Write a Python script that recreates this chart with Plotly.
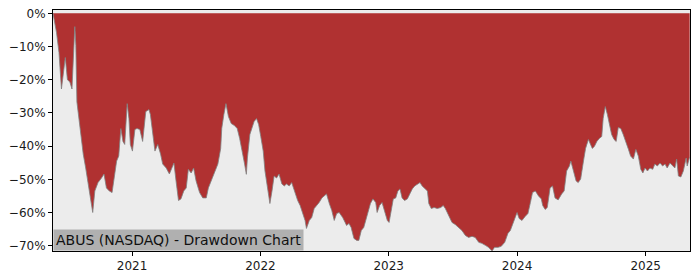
import plotly.graph_objects as go

dates = [
    "2020-05-21", "2020-05-31", "2020-06-07", "2020-06-14", "2020-06-25", "2020-07-01", "2020-07-08",
    "2020-07-14", "2020-07-22", "2020-07-25", "2020-07-28", "2020-08-03", "2020-08-07", "2020-08-15",
    "2020-08-22", "2020-08-29", "2020-09-05", "2020-09-11", "2020-09-17", "2020-09-26", "2020-10-06",
    "2020-10-13", "2020-10-20", "2020-10-28", "2020-11-05", "2020-11-11", "2020-11-18", "2020-11-24",
    "2020-11-30", "2020-12-06", "2020-12-11", "2020-12-18", "2020-12-23", "2020-12-27",
    "2021-01-02", "2021-01-09", "2021-01-15", "2021-01-23", "2021-01-31", "2021-02-09", "2021-02-18",
    "2021-02-22", "2021-03-01", "2021-03-07", "2021-03-15", "2021-03-23", "2021-03-29", "2021-04-08",
    "2021-04-17", "2021-04-24", "2021-04-30", "2021-05-06", "2021-05-13", "2021-05-20", "2021-05-28",
    "2021-06-04", "2021-06-10", "2021-06-18", "2021-06-25", "2021-07-02", "2021-07-12", "2021-07-21",
    "2021-07-31", "2021-08-06", "2021-08-14", "2021-08-23", "2021-09-02", "2021-09-10", "2021-09-13",
    "2021-09-19", "2021-09-25", "2021-10-02", "2021-10-10", "2021-10-19", "2021-10-27", "2021-11-03",
    "2021-11-09", "2021-11-17", "2021-11-22", "2021-11-25", "2021-12-02", "2021-12-08", "2021-12-14",
    "2021-12-21", "2021-12-27",
    "2022-01-02", "2022-01-09", "2022-01-14", "2022-01-21", "2022-01-28", "2022-02-03", "2022-02-09",
    "2022-02-16", "2022-02-23", "2022-03-03", "2022-03-10", "2022-03-16", "2022-03-24", "2022-03-31",
    "2022-04-07", "2022-04-17", "2022-04-24", "2022-05-01", "2022-05-08", "2022-05-12", "2022-05-20",
    "2022-05-27", "2022-06-03", "2022-06-10", "2022-06-17", "2022-06-25", "2022-07-01", "2022-07-08",
    "2022-07-16", "2022-07-23", "2022-07-30", "2022-08-06", "2022-08-13", "2022-08-23", "2022-08-30",
    "2022-09-03", "2022-09-10", "2022-09-16", "2022-09-24", "2022-10-02", "2022-10-08", "2022-10-15",
    "2022-10-22", "2022-10-30", "2022-11-06", "2022-11-10", "2022-11-17", "2022-11-25", "2022-11-29",
    "2022-12-06", "2022-12-13", "2022-12-20", "2022-12-28",
    "2023-01-02", "2023-01-08", "2023-01-14", "2023-01-21", "2023-01-27", "2023-02-02", "2023-02-08",
    "2023-02-15", "2023-02-23", "2023-03-02", "2023-03-09", "2023-03-16", "2023-03-23", "2023-03-31",
    "2023-04-06", "2023-04-13", "2023-04-21", "2023-04-25", "2023-05-02", "2023-05-10", "2023-05-19",
    "2023-05-29", "2023-06-05", "2023-06-11", "2023-06-20", "2023-06-30", "2023-07-09", "2023-07-19",
    "2023-07-28", "2023-08-07", "2023-08-16", "2023-08-26", "2023-09-04", "2023-09-14", "2023-09-23",
    "2023-10-03", "2023-10-12", "2023-10-22", "2023-10-29", "2023-11-08", "2023-11-17", "2023-11-27",
    "2023-12-06", "2023-12-13", "2023-12-20", "2023-12-25",
    "2024-01-01", "2024-01-07", "2024-01-15", "2024-01-24", "2024-02-01", "2024-02-08", "2024-02-14",
    "2024-02-22", "2024-03-02", "2024-03-10", "2024-03-14", "2024-03-21", "2024-03-27", "2024-04-04",
    "2024-04-11", "2024-04-18", "2024-04-27", "2024-05-07", "2024-05-14", "2024-05-21", "2024-05-29",
    "2024-06-02", "2024-06-09", "2024-06-17", "2024-06-23", "2024-06-30", "2024-07-08", "2024-07-14",
    "2024-07-22", "2024-07-27", "2024-08-02", "2024-08-08", "2024-08-15", "2024-08-22", "2024-08-29",
    "2024-09-02", "2024-09-08", "2024-09-14", "2024-09-20", "2024-09-26", "2024-10-03", "2024-10-09",
    "2024-10-15", "2024-10-22", "2024-10-29", "2024-11-06", "2024-11-13", "2024-11-19", "2024-11-27",
    "2024-12-04", "2024-12-11", "2024-12-18", "2024-12-24", "2024-12-30",
    "2025-01-06", "2025-01-13", "2025-01-21", "2025-01-27", "2025-02-03", "2025-02-11", "2025-02-18",
    "2025-02-25", "2025-03-03", "2025-03-11", "2025-03-19", "2025-03-25", "2025-03-30", "2025-04-04",
    "2025-04-11", "2025-04-18", "2025-04-26", "2025-04-29", "2025-05-06",
]

drawdown_pct = [
    0.0, -5.8, -11.8, -22.8, -13.3, -20.0, -20.7,
    -22.8, -4.0, -9.7, -26.7, -32.6, -35.6, -42.4,
    -46.6, -51.4, -55.6, -60.0, -53.5, -51.0, -49.6,
    -48.4, -52.6, -53.5, -54.0, -49.6, -44.5, -43.0,
    -34.7, -38.6, -39.5, -27.2, -31.7, -39.5,
    -41.5, -35.0, -34.7, -35.0, -38.6, -29.6, -29.0,
    -30.5, -36.5, -41.5, -39.5, -42.4, -45.4, -46.6,
    -48.4, -46.6, -45.1, -50.5, -56.4, -55.9, -53.5,
    -52.6, -47.0, -48.1, -46.6, -50.5, -54.0, -55.6,
    -55.6, -52.6, -50.5, -48.4, -45.4, -40.7, -34.7,
    -30.5, -27.2, -31.1, -33.2, -33.8, -34.7, -37.7,
    -40.7, -45.4, -48.5, -43.6, -36.5, -34.7, -32.6,
    -31.7, -33.5,
    -37.1, -41.5, -47.5, -52.6, -57.3, -53.5, -49.0,
    -49.6, -48.4, -51.4, -52.0, -51.4, -52.0, -51.0,
    -53.5, -56.4, -57.9, -60.3, -62.4, -64.8, -62.4,
    -61.5, -58.8, -57.9, -57.0, -55.6, -55.0, -54.4,
    -57.3, -59.4, -62.4, -60.3, -60.0, -61.5, -63.0,
    -63.9, -63.3, -64.5, -67.8, -68.4, -68.4, -65.4,
    -64.5, -61.5, -59.4, -57.3, -55.9, -57.0, -60.0,
    -57.9, -57.0, -59.4, -62.4,
    -63.0, -59.4, -55.9, -55.6, -53.5, -52.9, -55.6,
    -56.4, -55.9, -54.4, -52.9, -52.0, -51.4, -51.0,
    -52.0, -52.6, -53.5, -57.3, -58.8, -58.5, -58.8,
    -58.5, -57.9, -58.8, -60.9, -63.0, -63.6, -64.5,
    -65.4, -66.9, -67.5, -67.2, -67.5, -69.0, -69.3,
    -69.9, -70.5, -71.6, -70.5, -70.5, -70.2, -69.0,
    -66.3, -65.4, -63.3, -61.5,
    -60.0, -61.8, -62.4, -61.2, -60.3, -57.0, -54.0,
    -53.5, -55.0, -55.9, -57.9, -59.1, -58.5, -52.6,
    -52.0, -55.6, -56.2, -54.4, -53.5, -47.5, -46.0,
    -44.5, -47.5, -50.5, -51.0, -49.9, -44.5, -40.7,
    -38.0, -39.2, -40.7, -40.1, -38.6, -37.7, -37.1,
    -31.7, -28.1, -30.5, -33.5, -36.5, -38.0, -38.6,
    -34.4, -34.7, -36.5, -38.6, -41.0, -43.0, -43.9,
    -41.0, -43.0, -47.0, -48.1, -46.6,
    -47.5, -46.6, -47.0, -45.4, -46.0, -45.1, -46.0,
    -45.4, -46.6, -45.1, -46.0, -46.6, -43.9, -49.0,
    -49.3, -47.5, -43.6, -46.0, -43.3,
]

tick_dates = ["2021-01-01", "2022-01-01", "2023-01-01", "2024-01-01", "2025-01-01"]
tick_years = ["2021", "2022", "2023", "2024", "2025"]
y_ticks = [0, -10, -20, -30, -40, -50, -60, -70]
y_tick_labels = ["0%", "\u221210%", "\u221220%", "\u221230%", "\u221240%", "\u221250%", "\u221260%", "\u221270%"]
title_text = "ABUS (NASDAQ) - Drawdown Chart"

fig = go.Figure()
fig.add_trace(go.Scatter(
    x=dates, y=drawdown_pct, mode="lines", fill="tozeroy",
    fillcolor="#b03131", line=dict(color="#808080", width=0.8),
    hoverinfo="skip", showlegend=False,
))

fig.update_layout(
    width=700, height=280,
    margin=dict(l=53, r=10, t=7, b=28),
    paper_bgcolor="white", plot_bgcolor="#ececec",
    font=dict(family="DejaVu Sans", size=12, color="#1a1a1a"),
    xaxis=dict(
        type="date", range=["2020-05-21", "2025-05-07"],
        tickvals=tick_dates, ticktext=tick_years,
        showgrid=False, zeroline=False,
        showline=True, linecolor="black", linewidth=1, mirror=True,
        ticks="outside", ticklen=4, tickcolor="black",
    ),
    yaxis=dict(
        range=[-71.6, 1.0],
        tickvals=y_ticks, ticktext=y_tick_labels,
        showgrid=False, zeroline=False,
        showline=True, linecolor="black", linewidth=1, mirror=True,
        ticks="outside", ticklen=4, tickcolor="black",
    ),
    annotations=[dict(
        text=title_text, xref="paper", yref="paper", x=0, y=0,
        xanchor="left", yanchor="bottom", showarrow=False,
        font=dict(family="DejaVu Sans", size=14, color="#111111"),
        bgcolor="#b0b0b0", borderpad=2,
    )],
)

fig.write_html("out.html")
